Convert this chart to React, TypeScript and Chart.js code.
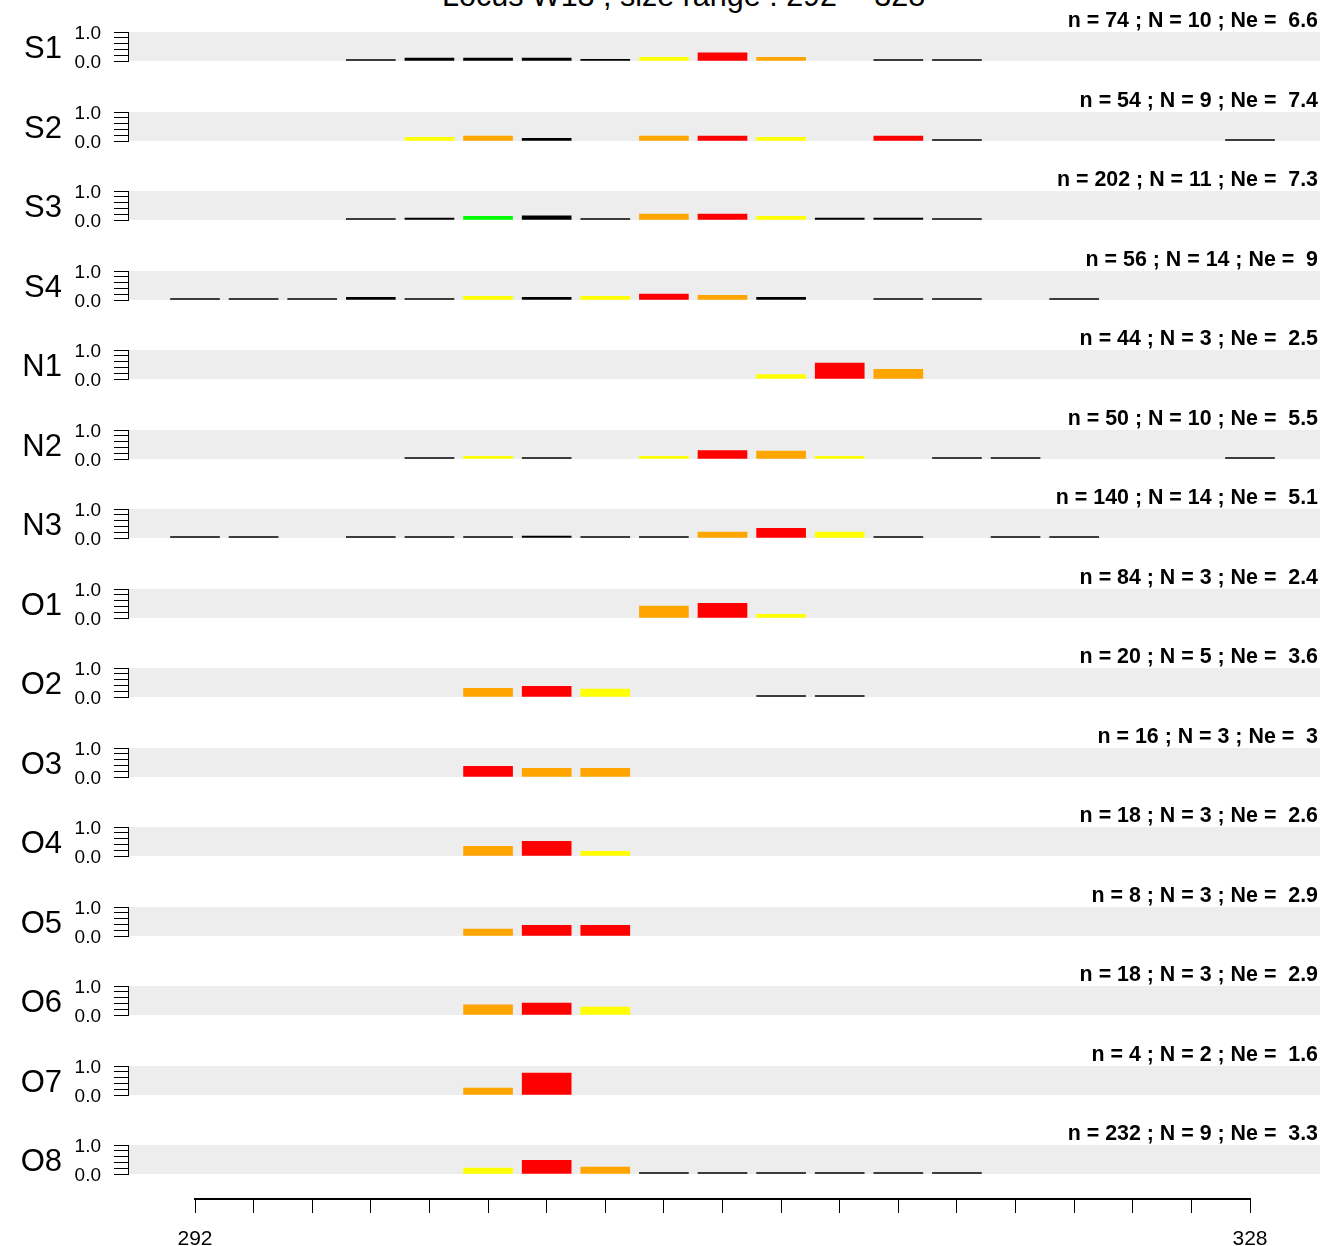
import React, { useEffect, useRef } from 'react';
import { Chart, registerables } from 'chart.js';

Chart.register(...registerables);

const FONT = '"Liberation Sans", Arial, Helvetica, sans-serif';

const titleText = 'Locus W13 ; size range : 292 -- 328';

const rowLabels = ['S1', 'S2', 'S3', 'S4', 'N1', 'N2', 'N3', 'O1', 'O2', 'O3', 'O4', 'O5', 'O6', 'O7', 'O8'];

const rowStats = [
  'n = 74 ; N = 10 ; Ne =  6.6',
  'n = 54 ; N = 9 ; Ne =  7.4',
  'n = 202 ; N = 11 ; Ne =  7.3',
  'n = 56 ; N = 14 ; Ne =  9',
  'n = 44 ; N = 3 ; Ne =  2.5',
  'n = 50 ; N = 10 ; Ne =  5.5',
  'n = 140 ; N = 14 ; Ne =  5.1',
  'n = 84 ; N = 3 ; Ne =  2.4',
  'n = 20 ; N = 5 ; Ne =  3.6',
  'n = 16 ; N = 3 ; Ne =  3',
  'n = 18 ; N = 3 ; Ne =  2.6',
  'n = 8 ; N = 3 ; Ne =  2.9',
  'n = 18 ; N = 3 ; Ne =  2.9',
  'n = 4 ; N = 2 ; Ne =  1.6',
  'n = 232 ; N = 9 ; Ne =  3.3',
];

// allele sizes, frequencies and colour codes per population
const sizesS1 = [298, 300, 302, 304, 306, 308, 310, 312, 316, 318];
const freqS1 = [0.02, 0.1, 0.1, 0.1, 0.06, 0.13, 0.28, 0.13, 0.03, 0.03];
const colS1 = ['K', 'K', 'K', 'K', 'K', 'Y', 'R', 'O', 'K', 'K'];

const sizesS2 = [300, 302, 304, 308, 310, 312, 316, 318, 328];
const freqS2 = [0.13, 0.17, 0.09, 0.17, 0.17, 0.13, 0.17, 0.05, 0.02];
const colS2 = ['Y', 'O', 'K', 'O', 'R', 'Y', 'R', 'K', 'K'];

const sizesS3 = [298, 300, 302, 304, 306, 308, 310, 312, 314, 316, 318];
const freqS3 = [0.03, 0.07, 0.13, 0.14, 0.03, 0.2, 0.2, 0.13, 0.07, 0.07, 0.03];
const colS3 = ['K', 'K', 'G', 'K', 'K', 'O', 'R', 'Y', 'K', 'K', 'K'];

const sizesS4 = [292, 294, 296, 298, 300, 302, 304, 306, 308, 310, 312, 316, 318, 322];
const freqS4 = [0.02, 0.02, 0.02, 0.09, 0.02, 0.13, 0.09, 0.13, 0.2, 0.16, 0.09, 0.04, 0.04, 0.04];
const colS4 = ['K', 'K', 'K', 'K', 'K', 'Y', 'K', 'Y', 'R', 'O', 'K', 'K', 'K', 'K'];

const sizesN1 = [312, 314, 316];
const freqN1 = [0.15, 0.55, 0.33];
const colN1 = ['Y', 'R', 'O'];

const sizesN2 = [300, 302, 304, 308, 310, 312, 314, 318, 320, 328];
const freqN2 = [0.05, 0.09, 0.05, 0.09, 0.29, 0.27, 0.09, 0.05, 0.02, 0.02];
const colN2 = ['K', 'Y', 'K', 'Y', 'R', 'O', 'Y', 'K', 'K', 'K'];

const sizesN3 = [292, 294, 298, 300, 302, 304, 306, 308, 310, 312, 314, 316, 320, 322];
const freqN3 = [0.015, 0.015, 0.015, 0.015, 0.04, 0.07, 0.04, 0.015, 0.2, 0.33, 0.2, 0.015, 0.015, 0.015];
const colN3 = ['K', 'K', 'K', 'K', 'K', 'K', 'K', 'K', 'O', 'R', 'Y', 'K', 'K', 'K'];

const sizesO1 = [308, 310, 312];
const freqO1 = [0.41, 0.51, 0.13];
const colO1 = ['O', 'R', 'Y'];

const sizesO2 = [302, 304, 306, 312, 314];
const freqO2 = [0.3, 0.37, 0.27, 0.05, 0.05];
const colO2 = ['O', 'R', 'Y', 'K', 'K'];

const sizesO3 = [302, 304, 306];
const freqO3 = [0.37, 0.3, 0.3];
const colO3 = ['R', 'O', 'O'];

const sizesO4 = [302, 304, 306];
const freqO4 = [0.335, 0.51, 0.16];
const colO4 = ['O', 'R', 'Y'];

const sizesO5 = [302, 304, 306];
const freqO5 = [0.24, 0.37, 0.37];
const colO5 = ['O', 'R', 'R'];

const sizesO6 = [302, 304, 306];
const freqO6 = [0.35, 0.41, 0.27];
const colO6 = ['O', 'R', 'Y'];

const sizesO7 = [302, 304];
const freqO7 = [0.24, 0.76];
const colO7 = ['O', 'R'];

const sizesO8 = [302, 304, 306, 308, 310, 312, 314, 316, 318];
const freqO8 = [0.2, 0.47, 0.24, 0.015, 0.015, 0.04, 0.015, 0.015, 0.015];
const colO8 = ['Y', 'R', 'O', 'K', 'K', 'K', 'K', 'K', 'K'];

const rowSizes = [sizesS1, sizesS2, sizesS3, sizesS4, sizesN1, sizesN2, sizesN3, sizesO1, sizesO2, sizesO3, sizesO4, sizesO5, sizesO6, sizesO7, sizesO8];
const rowFreqs = [freqS1, freqS2, freqS3, freqS4, freqN1, freqN2, freqN3, freqO1, freqO2, freqO3, freqO4, freqO5, freqO6, freqO7, freqO8];
const rowColors = [colS1, colS2, colS3, colS4, colN1, colN2, colN3, colO1, colO2, colO3, colO4, colO5, colO6, colO7, colO8];

const axisMin = 292;
const axisMax = 328;
const axisStep = 2;
const axisLabels = ['292', '328'];

const COLOR_MAP: Record<string, string> = {
  R: '#FF0000',
  O: '#FFA500',
  Y: '#FFFF00',
  G: '#00FF00',
  K: '#000000',
};

const W = 1321;
const ROW_H = 86;
const TOP_PAD = 30;
const BAND_H = 29;
const PX_PER_UNIT = (1250 - 195) / (axisMax - axisMin);
const PLOT_LEFT = 128;
const PLOT_RIGHT = 1320;
const X_MIN = axisMin - (195 - PLOT_LEFT) / PX_PER_UNIT;
const X_MAX = axisMax + (PLOT_RIGHT - 1250) / PX_PER_UNIT;

function bandTop(i: number) {
  return Math.round(32 + 79.5 * i);
}

function RowChart({ index }: { index: number }) {
  const ref = useRef<HTMLCanvasElement | null>(null);
  useEffect(() => {
    if (!ref.current) return;
    const sizes = rowSizes[index];
    const freqs = rowFreqs[index];
    const cols = rowColors[index];
    const label = rowLabels[index];
    const stats = rowStats[index];
    const bandPlugin = {
      id: 'band' + index,
      beforeDraw(chart: any) {
        const { ctx, chartArea } = chart;
        ctx.save();
        ctx.fillStyle = '#EDEDED';
        ctx.fillRect(chartArea.left, chartArea.top, chartArea.right - chartArea.left, chartArea.bottom - chartArea.top);
        ctx.restore();
      },
      afterDraw(chart: any) {
        const { ctx, chartArea } = chart;
        ctx.save();
        ctx.fillStyle = '#000';
        ctx.textAlign = 'right';
        ctx.textBaseline = 'alphabetic';
        ctx.font = `31px ${FONT}`;
        const mid = (chartArea.top + chartArea.bottom) / 2;
        ctx.fillText(label, 62, mid + 11);
        ctx.font = `bold 21.4px ${FONT}`;
        ctx.fillText(stats, chartArea.right - 2, chartArea.top - 5);
        ctx.restore();
      },
    };
    const chart = new Chart(ref.current, {
      type: 'bar',
      data: {
        datasets: [
          {
            data: sizes.map((s, i) => ({ x: s, y: freqs[i] })),
            backgroundColor: cols.map((c) => COLOR_MAP[c]),
            borderWidth: 0,
            barThickness: 49,
            minBarLength: 1.5,
          } as any,
        ],
      },
      options: {
        animation: false,
        responsive: false,
        maintainAspectRatio: false,
        layout: { padding: { top: TOP_PAD, bottom: ROW_H - TOP_PAD - BAND_H, left: 0, right: W - PLOT_RIGHT } },
        plugins: {
          legend: { display: false },
          tooltip: { enabled: false },
          title: { display: false },
        },
        scales: {
          x: {
            type: 'linear',
            min: X_MIN,
            max: X_MAX,
            offset: false,
            display: false,
            grid: { offset: false },
          },
          y: {
            type: 'linear',
            min: 0,
            max: 1,
            ticks: {
              stepSize: 0.2,
              autoSkip: false,
              padding: 13,
              labelOffset: 2,
              color: '#000',
              font: { family: FONT, size: 19 },
              callback: (v: any) => {
                const n = Number(v);
                if (Math.abs(n) < 1e-9) return '0.0';
                if (Math.abs(n - 1) < 1e-9) return '1.0';
                return '';
              },
            },
            grid: { drawOnChartArea: false, drawTicks: true, tickLength: 14, color: '#000', lineWidth: 1 },
            border: { display: true, color: '#000', width: 1 },
            afterFit: (s: any) => {
              s.width = PLOT_LEFT;
            },
          },
        },
      } as any,
      plugins: [bandPlugin],
    });
    return () => chart.destroy();
  }, [index]);
  return (
    <canvas
      ref={ref}
      width={W}
      height={ROW_H}
      style={{ position: 'absolute', left: 0, top: bandTop(index) - TOP_PAD, width: W, height: ROW_H }}
    />
  );
}

function AxisChart() {
  const ref = useRef<HTMLCanvasElement | null>(null);
  useEffect(() => {
    if (!ref.current) return;
    const chart = new Chart(ref.current, {
      type: 'scatter',
      data: { datasets: [{ data: [] }] },
      options: {
        animation: false,
        responsive: false,
        maintainAspectRatio: false,
        layout: { padding: { left: 195, right: W - 1250, top: 0, bottom: 0 } },
        plugins: { legend: { display: false }, tooltip: { enabled: false } },
        scales: {
          x: {
            type: 'linear',
            position: 'bottom',
            min: axisMin,
            max: axisMax,
            ticks: {
              stepSize: axisStep,
              autoSkip: false,
              maxRotation: 0,
              padding: 14,
              color: '#000',
              font: { family: FONT, size: 21 },
              callback: (v: any) => {
                const s = String(Math.round(Number(v)));
                return axisLabels.includes(s) ? s : '';
              },
            },
            grid: { drawOnChartArea: false, drawTicks: true, tickLength: 14, color: '#000', lineWidth: 1 },
            border: { display: true, color: '#000', width: 2 },
            afterFit: (s: any) => {
              s.height = 47;
            },
          },
          y: { display: false },
        },
      } as any,
    });
    return () => chart.destroy();
  }, []);
  return (
    <canvas ref={ref} width={W} height={66} style={{ position: 'absolute', left: 0, top: 1180, width: W, height: 66 }} />
  );
}

export default function App() {
  return (
    <div style={{ position: 'absolute', left: 0, top: 0, width: W, height: 1246, overflow: 'hidden', background: '#fff' }}>
      <div
        style={{
          position: 'absolute',
          left: 442,
          top: -20,
          fontFamily: FONT,
          fontSize: 30.5,
          lineHeight: '31px',
          whiteSpace: 'nowrap',
          color: '#000',
        }}
      >
        {titleText}
      </div>
      {rowLabels.map((_, i) => (
        <RowChart key={i} index={i} />
      ))}
      <AxisChart />
    </div>
  );
}
